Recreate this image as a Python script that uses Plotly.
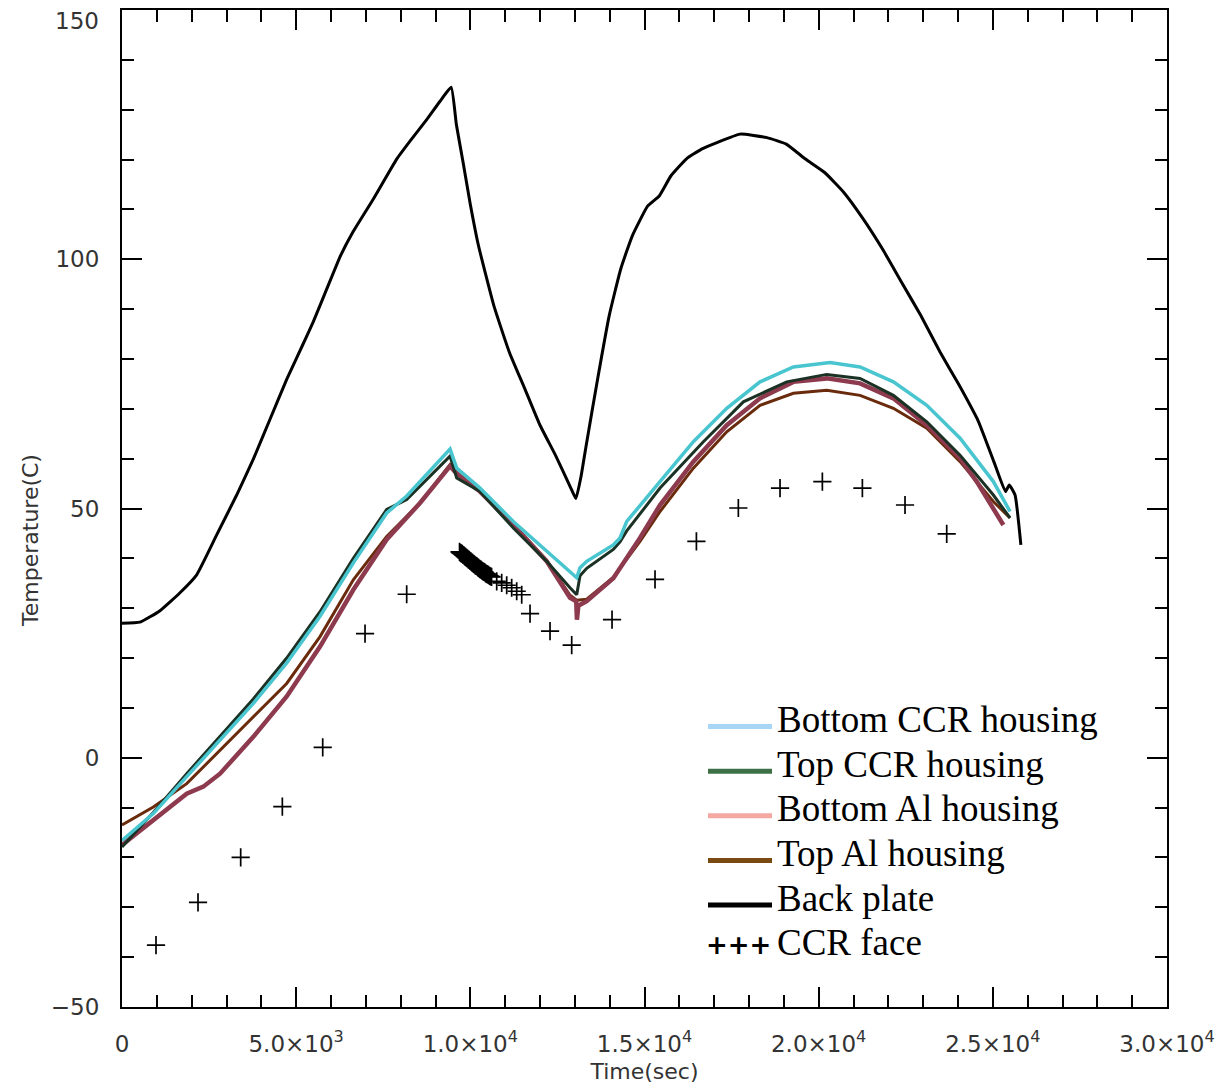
import plotly.graph_objects as go

# ---------------- data ----------------
t_back = [0, 517, 1091, 1665, 2144, 2718, 3292, 3770, 4249, 4728, 5206, 5493, 5876, 6259,
          6641, 7216, 7886, 8268, 8747, 9130, 9450, 9600, 9793, 10000, 10235, 10675, 11117,
          11559, 12001, 12443, 12885, 13030, 13180, 13327, 13657, 13987, 14320, 14650,
          15093, 15423, 15756, 16198, 16638, 17080, 17743, 18515, 19069, 19620, 20172,
          20723, 21277, 21828, 22379, 22933, 23484, 24036, 24590, 25029, 25362, 25471,
          25638, 25805]
T_back = [27.0, 27.2, 29.5, 33.1, 36.7, 44.7, 52.7, 59.9, 67.9, 75.9, 83.1, 87.5, 94.0, 100.5,
          105.6, 112.1, 120.1, 123.7, 128.0, 131.7, 134.5, 127.0, 119.4, 111.0, 102.7, 90.7,
          81.4, 74.1, 66.7, 60.7, 54.1, 52.0, 56.5, 62.7, 76.1, 88.7, 98.1, 104.7,
          110.7, 112.7, 116.7, 120.1, 122.1, 123.4, 125.1, 124.4, 123.1, 120.1, 117.4,
          113.4, 108.1, 102.1, 95.4, 88.7, 81.4, 74.7, 67.4, 59.4, 53.4, 54.7,
          52.7, 42.7]

t_bot_ccr = [0, 899, 1857, 2814, 3770, 4728, 5685, 6641, 7599, 8174, 9417, 9609, 10278,
             11234, 12193, 12862, 13054, 13149, 13341, 14105, 14297, 14490, 15446, 16402,
             17361, 18317, 19273, 20327, 21188, 22145, 23104, 24059, 25015, 25494]
T_bot_ccr = [-16.6, -11.2, -3.8, 3.6, 10.9, 19.0, 28.4, 39.1, 49.1, 52.5, 61.9, 58.1, 54.1,
             47.4, 41.4, 37.4, 36.1, 38.1, 39.4, 42.7, 44.1, 47.4, 55.4, 63.4,
             70.1, 75.4, 78.4, 79.3, 78.4, 75.4, 70.7, 64.1, 55.4, 49.4]

t_top_ccr = [0, 899, 1857, 2814, 3770, 4728, 5685, 6641, 7599, 8174, 9417, 9609, 10278,
             11234, 12193, 12862, 13054, 13149, 13341, 14105, 14297, 14490, 15446, 16690,
             17838, 19083, 20232, 21188, 22145, 23104, 24059, 25015, 25494]
T_top_ccr = [-17.9, -11.0, -3.2, 4.4, 11.8, 20.0, 29.3, 40.0, 49.8, 51.8, 60.5, 56.1, 53.4,
             46.1, 39.4, 34.1, 32.7, 36.5, 38.0, 41.8, 43.3, 45.5, 54.1, 63.4,
             71.4, 75.4, 76.9, 76.1, 72.7, 67.4, 60.7, 52.7, 48.1]

t_bot_al = [0, 899, 1857, 2335, 2814, 3770, 4728, 5685, 6641, 7599, 8556, 9417, 9609, 10278,
            11234, 12193, 12862, 13040, 13060, 13100, 13341, 14105, 14870, 15446, 16402,
            17361, 18317, 19273, 20232, 21188, 22145, 23104, 24059, 24538, 25015, 25302]
T_bot_al = [-17.5, -12.5, -7.2, -5.8, -3.2, 4.2, 12.3, 22.3, 33.7, 43.8, 51.1, 58.5, 57.0, 53.4,
            46.7, 39.4, 32.1, 31.4, 27.7, 30.5, 31.4, 36.0, 44.1, 50.7, 59.4,
            66.7, 72.1, 75.4, 76.1, 75.1, 72.1, 66.7, 60.1, 55.4, 50.1, 46.7]

t_top_al = [0, 899, 1857, 2814, 3770, 4728, 5685, 6641, 7599, 8556, 9417, 9609, 10278,
            11234, 12193, 12862, 13054, 13341, 14105, 14870, 15446, 16402, 17361, 18317,
            19273, 20232, 21188, 22145, 23104, 24059, 25015, 25494]
T_top_al = [-13.5, -9.9, -5.2, 1.5, 8.2, 14.9, 24.3, 35.7, 44.4, 51.1, 58.8, 57.2, 53.6,
            46.9, 39.6, 32.6, 31.6, 31.8, 36.2, 43.4, 49.4, 58.1, 65.4, 70.7,
            73.1, 73.7, 72.7, 70.1, 66.1, 59.4, 51.4, 48.1]

t_face = [976, 2182, 3407, 4603, 5762, 6977, 8173,
          9690, 9715, 9740, 9765, 9790, 9815, 9840, 9865, 9890, 9915, 9940, 9965, 9990,
          10015, 10040, 10065, 10090, 10115, 10140, 10165, 10190, 10215, 10240, 10265,
          10290, 10315, 10340, 10365, 10390, 10415, 10440, 10465, 10490, 10520, 10550,
          10580, 10610,
          10757, 10900, 11044, 11187, 11331, 11475, 11714, 12288, 12910,
          14068, 15302, 16490, 17694, 18891, 20106, 21255, 22479, 23676]
T_face = [-37.6, -29.0, -20.0, -9.8, 2.1, 24.9, 32.8,
          41.3, 41.1, 41.0, 40.9, 40.7, 40.6, 40.4, 40.3, 40.1, 40.0, 39.8, 39.7, 39.5,
          39.4, 39.2, 39.1, 38.9, 38.8, 38.6, 38.5, 38.4, 38.2, 38.1, 37.9,
          37.8, 37.7, 37.5, 37.4, 37.3, 37.2, 37.0, 36.9, 36.8, 36.7, 36.5,
          36.4, 36.3,
          35.4, 35.1, 34.6, 34.1, 33.4, 32.7, 28.9, 25.4, 22.6,
          27.7, 35.8, 43.4, 50.1, 54.1, 55.4, 54.1, 50.7, 44.9]

x_tickvals = [0, 5000, 10000, 15000, 20000, 25000, 30000]
x_ticktext = ["0", "5.0×10<sup>3</sup>", "1.0×10<sup>4</sup>", "1.5×10<sup>4</sup>",
              "2.0×10<sup>4</sup>", "2.5×10<sup>4</sup>", "3.0×10<sup>4</sup>"]
y_tickvals = [-50, 0, 50, 100, 150]
y_ticktext = ["−50", "0", "50", "100", ""]
top_label = "150"

legend_names = ["Bottom CCR housing", "Top CCR housing", "Bottom Al housing",
                "Top Al housing", "Back plate", "CCR face"]
legend_colors = ["#a9d6f5", "#3d7046", "#f5a8a2", "#7a4a12", "#000000", "#000000"]

# ---------------- figure ----------------
W, H = 1229, 1088
L, R, T, B = 122, 62, 8, 81
PW, PH = W - L - R, H - T - B


def px_x(px):
    return (px - L) / PW


def px_y(py):
    return (H - B - py) / PH


fig = go.Figure()
fig.add_trace(go.Scatter(x=t_top_al, y=T_top_al, mode="lines",
                         line=dict(color="#6a2b0c", width=3), name="Top Al housing"))
fig.add_trace(go.Scatter(x=t_bot_al, y=T_bot_al, mode="lines",
                         line=dict(color="#8e3a4e", width=4.5), name="Bottom Al housing"))
fig.add_trace(go.Scatter(x=t_top_ccr, y=T_top_ccr, mode="lines",
                         line=dict(color="#1a3124", width=3), name="Top CCR housing"))
fig.add_trace(go.Scatter(x=t_bot_ccr, y=T_bot_ccr, mode="lines",
                         line=dict(color="#48c5cf", width=3.5), name="Bottom CCR housing"))
fig.add_trace(go.Scatter(x=t_back, y=T_back, mode="lines",
                         line=dict(color="#000000", width=3, shape="spline", smoothing=0.4),
                         name="Back plate"))
fig.add_trace(go.Scatter(x=t_face, y=T_face, mode="markers",
                         marker=dict(symbol="cross-thin", size=13,
                                     line=dict(color="#000000", width=1.7)),
                         name="CCR face"))

tick_font = dict(family="DejaVu Sans", size=23, color="#333333")
axis_common = dict(showline=True, linecolor="#000000", linewidth=2, mirror="ticks",
                   ticks="inside", tickcolor="#000000", tickwidth=1.5, ticklen=20,
                   showgrid=False, zeroline=False, tickfont=tick_font)

fig.update_layout(
    width=W, height=H,
    margin=dict(l=L, r=R, t=T, b=B, pad=0),
    paper_bgcolor="white", plot_bgcolor="white",
    showlegend=False,
    xaxis=dict(range=[0, 30000], tickmode="array", tickvals=x_tickvals,
               ticktext=x_ticktext, ticklabelstandoff=15,
               minor=dict(ticks="inside", ticklen=12, dtick=1000, tickcolor="#000000",
                          tickwidth=1.5, showgrid=False),
               title=dict(text="Time(sec)", font=dict(family="DejaVu Sans", size=22,
                                                      color="#333333"), standoff=8),
               **axis_common),
    yaxis=dict(range=[-50, 150], tickmode="array", tickvals=y_tickvals,
               ticktext=y_ticktext, ticklabelstandoff=16,
               minor=dict(ticks="inside", ticklen=12, dtick=10, tickcolor="#000000",
                          tickwidth=1.5, showgrid=False),
               **axis_common),
)

# top y tick label (shifted inside the page as in the reference)
fig.add_annotation(x=px_x(101), y=px_y(19), xref="paper", yref="paper", text=top_label,
                   showarrow=False, xanchor="right", yanchor="middle", font=tick_font)
# y axis title
fig.add_annotation(x=px_x(31), y=px_y(540), xref="paper", yref="paper",
                   text="Temperature(C)", textangle=-90, showarrow=False,
                   xanchor="center", yanchor="middle",
                   font=dict(family="DejaVu Sans", size=22, color="#333333"))

# ---------------- custom legend ----------------
row_y = [719, 763.7, 808.4, 853.1, 897.8, 942.5]
for i, (name, col) in enumerate(zip(legend_names, legend_colors)):
    yc = row_y[i]
    if name == "CCR face":
        fig.add_annotation(x=px_x(773), y=px_y(yc + 2), xref="paper", yref="paper",
                           text="<b>+++</b>", showarrow=False, xanchor="right",
                           yanchor="middle",
                           font=dict(family="DejaVu Sans", size=26, color="#000000"))
    else:
        fig.add_shape(type="line", xref="paper", yref="paper",
                      x0=px_x(708), x1=px_x(772), y0=px_y(yc + 7), y1=px_y(yc + 7),
                      line=dict(color=col, width=5))
    fig.add_annotation(x=px_x(775), y=px_y(yc), xref="paper", yref="paper",
                       text=name, showarrow=False, xanchor="left", yanchor="middle",
                       font=dict(family="Liberation Serif", size=37, color="#000000"))

fig.write_html("out.html")
